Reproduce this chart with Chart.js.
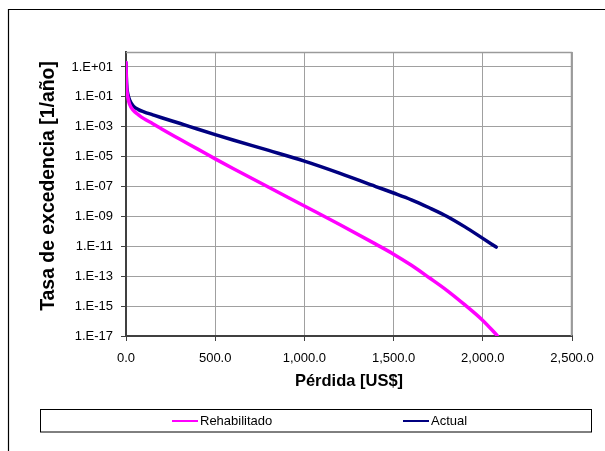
<!DOCTYPE html>
<html>
<head>
<meta charset="utf-8">
<script src="https://cdn.jsdelivr.net/npm/chart.js@4/dist/chart.umd.min.js"></script>
<style>
  html, body { margin: 0; padding: 0; background: #ffffff; }
  #wrap { width: 605px; height: 451px; }
</style>
</head>
<body>
<div id="wrap"><canvas id="c" width="605" height="451"></canvas></div>
<script>
// ---- data ----
const seriesNames = ['Rehabilitado', 'Actual'];
const seriesColors = ['#FF00FF', '#000080'];

const xRehabilitado = [0, 2, 5, 10, 20, 40, 70, 100, 150, 200, 300, 400, 500, 600, 800, 1000, 1200, 1400, 1500, 1600, 1700, 1800, 1900, 2000, 2080];
const yRehabilitado = [2.0e1, 1.0e0, 2.5e-1, 1.0e-1, 3.2e-2, 1.3e-2, 6.3e-3, 3.5e-3, 1.6e-3, 7.1e-4, 1.5e-4, 3.3e-5, 7.1e-6, 1.6e-6, 8.9e-8, 5.0e-9, 2.8e-10, 1.4e-11, 3.0e-12, 5.4e-13, 7.9e-14, 1.1e-14, 1.2e-15, 1.1e-16, 1.1e-17];

const xActual = [0, 2, 5, 10, 20, 40, 70, 100, 150, 200, 300, 400, 500, 600, 800, 1000, 1200, 1400, 1500, 1600, 1700, 1800, 1900, 2000, 2075];
const yActual = [2.0e1, 2.0e0, 4.0e-1, 1.6e-1, 6.3e-2, 2.5e-2, 1.4e-2, 1.0e-2, 6.3e-3, 4.0e-3, 1.7e-3, 7.1e-4, 3.0e-4, 1.3e-4, 2.6e-5, 5.0e-6, 7.6e-7, 1.0e-7, 3.7e-8, 1.3e-8, 3.8e-9, 1.0e-9, 2.0e-10, 3.4e-11, 8.9e-12];

const xTickValues = [0, 500, 1000, 1500, 2000, 2500];
const xTickLabels = ['0.0', '500.0', '1,000.0', '1,500.0', '2,000.0', '2,500.0'];
const yTickValues = [1e-17, 1e-15, 1e-13, 1e-11, 1e-9, 1e-7, 1e-5, 1e-3, 1e-1, 1e1];
const yTickLabels = ['1.E-17', '1.E-15', '1.E-13', '1.E-11', '1.E-09', '1.E-07', '1.E-05', '1.E-03', '1.E-01', '1.E+01'];

const xTitle = 'Pérdida [US$]';
const yTitle = 'Tasa de excedencia [1/año]';

// ---- build chart ----
const FONT = '"Liberation Sans", Arial, sans-serif';

function toPoints(xs, ys) { return xs.map((x, i) => ({ x: x, y: ys[i] })); }

const datasets = [
  { label: seriesNames[0], data: toPoints(xRehabilitado, yRehabilitado) },
  { label: seriesNames[1], data: toPoints(xActual, yActual) }
].map((d, i) => Object.assign(d, {
  borderColor: seriesColors[i],
  backgroundColor: seriesColors[i],
  borderWidth: 3.5,
  borderCapStyle: 'round',
  borderJoinStyle: 'round',
  pointRadius: 0,
  cubicInterpolationMode: 'monotone',
  fill: false
}));

const decorPlugin = {
  id: 'decor',
  beforeDraw(chart) {
    const ctx = chart.ctx;
    ctx.save();
    ctx.fillStyle = '#ffffff';
    ctx.fillRect(0, 0, chart.width, chart.height);
    // outer frame (cut off at the right and bottom)
    ctx.strokeStyle = '#000000';
    ctx.lineWidth = 1.2;
    ctx.beginPath();
    ctx.moveTo(8.5, chart.height);
    ctx.lineTo(8.5, 9.5);
    ctx.lineTo(chart.width, 9.5);
    ctx.stroke();
    ctx.restore();
  },
  beforeDatasetsDraw(chart) {
    const a = chart.chartArea;
    const ctx = chart.ctx;
    ctx.save();
    ctx.strokeStyle = '#9a9a9a';
    ctx.lineWidth = 1.5;
    ctx.beginPath();
    ctx.moveTo(a.left, a.top + 0.5);
    ctx.lineTo(a.right - 0.5, a.top + 0.5);
    ctx.lineTo(a.right - 0.5, a.bottom);
    ctx.stroke();
    ctx.restore();
  },
  afterDraw(chart) {
    const ctx = chart.ctx;
    ctx.save();
    // y axis title
    ctx.fillStyle = '#000000';
    ctx.font = 'bold 19.4px ' + FONT;
    ctx.textAlign = 'center';
    ctx.textBaseline = 'middle';
    ctx.translate(49, 186);
    ctx.rotate(-Math.PI / 2);
    ctx.fillText(yTitle, 0, 0);
    ctx.restore();

    // legend box
    ctx.save();
    ctx.strokeStyle = '#000000';
    ctx.lineWidth = 1;
    ctx.strokeRect(40.5, 409.5, 551, 22.5);
    const cy = 421;
    const items = [
      { x0: 172, x1: 198, tx: 200 },
      { x0: 403, x1: 429, tx: 431 }
    ];
    ctx.font = '13px ' + FONT;
    ctx.textBaseline = 'middle';
    ctx.textAlign = 'left';
    chart.data.datasets.forEach((ds, i) => {
      const it = items[i];
      ctx.strokeStyle = ds.borderColor;
      ctx.lineWidth = 2;
      ctx.beginPath();
      ctx.moveTo(it.x0, cy);
      ctx.lineTo(it.x1, cy);
      ctx.stroke();
      ctx.fillStyle = '#000000';
      ctx.fillText(ds.label, it.tx, cy + 0.5);
    });
    ctx.restore();
  }
};

new Chart(document.getElementById('c'), {
  type: 'line',
  data: { datasets: datasets },
  options: {
    responsive: false,
    devicePixelRatio: 1,
    animation: false,
    layout: { padding: { left: 20, top: 52, right: 33, bottom: 0 } },
    plugins: {
      legend: { display: false },
      title: { display: false },
      tooltip: { enabled: false }
    },
    scales: {
      x: {
        type: 'linear',
        min: 0,
        max: 2500,
        afterBuildTicks(scale) { scale.ticks = xTickValues.map(v => ({ value: v })); },
        afterFit(scale) { scale.height = 115; },
        ticks: {
          color: '#000000',
          font: { family: FONT, size: 13 },
          padding: 10,
          maxRotation: 0,
          callback(value) { const i = xTickValues.indexOf(value); return i >= 0 ? xTickLabels[i] : ''; }
        },
        grid: { color: '#a0a0a0', lineWidth: 1, drawTicks: true, tickLength: 5, tickColor: '#404040' },
        border: { color: '#404040', width: 2 },
        title: {
          display: true,
          text: xTitle,
          color: '#000000',
          font: { family: FONT, size: 16.5, weight: 'bold' },
          padding: { top: 0, bottom: 60 }
        }
      },
      y: {
        type: 'logarithmic',
        min: 1e-17,
        max: 1e2,
        afterBuildTicks(scale) { scale.ticks = yTickValues.map(v => ({ value: v })); },
        afterFit(scale) { scale.width = 106; },
        ticks: {
          color: '#000000',
          font: { family: FONT, size: 13 },
          padding: 8,
          autoSkip: false,
          callback(value) {
            const i = yTickValues.findIndex(v => Math.abs(Math.log10(v) - Math.log10(value)) < 1e-6);
            return i >= 0 ? yTickLabels[i] : '';
          }
        },
        grid: { color: '#a0a0a0', lineWidth: 1, drawTicks: true, tickLength: 5, tickColor: '#404040' },
        border: { color: '#404040', width: 2 }
      }
    }
  },
  plugins: [decorPlugin]
});
</script>
</body>
</html>
